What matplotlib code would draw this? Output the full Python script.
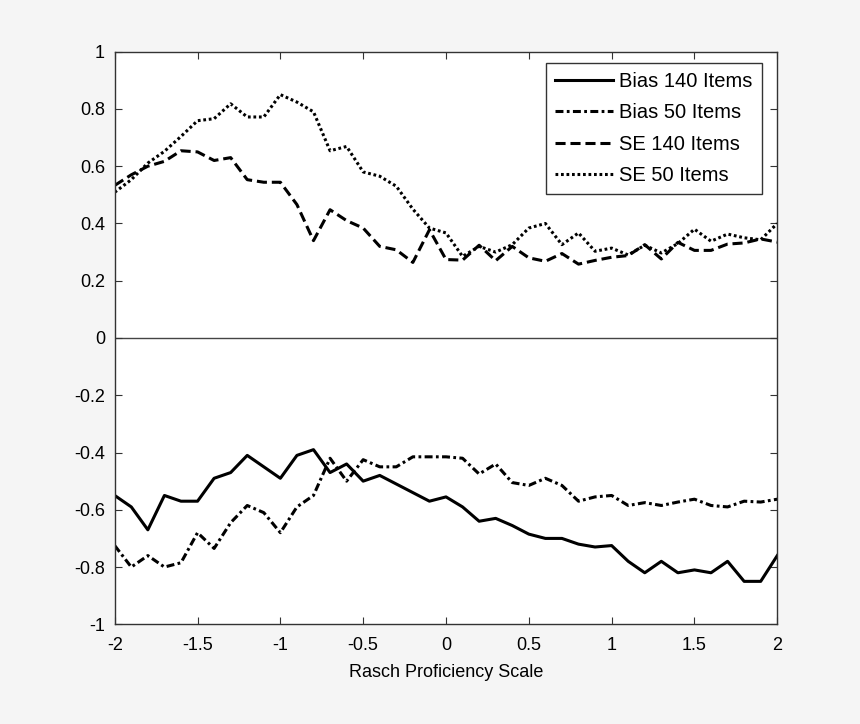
import matplotlib.pyplot as plt
import numpy as np
from matplotlib.ticker import FuncFormatter

plt.rcParams['font.family'] = ['Liberation Sans', 'DejaVu Sans']
plt.rcParams['axes.unicode_minus'] = False

# Rasch proficiency grid, -2 .. 2 in steps of 0.1
theta = np.round(np.arange(-2.0, 2.01, 0.1), 1)

bias_140 = [-0.55, -0.59, -0.67, -0.55, -0.57, -0.57, -0.49, -0.47, -0.41, -0.45,
            -0.49, -0.41, -0.39, -0.47, -0.44, -0.50, -0.48, -0.51, -0.54, -0.57,
            -0.555, -0.59, -0.64, -0.63, -0.655, -0.685, -0.70, -0.70, -0.72, -0.73,
            -0.725, -0.78, -0.82, -0.78, -0.82, -0.81, -0.82, -0.78, -0.85, -0.85,
            -0.76]
bias_50 = [-0.725, -0.80, -0.76, -0.80, -0.785, -0.68, -0.735, -0.645, -0.585, -0.61,
           -0.68, -0.59, -0.55, -0.42, -0.50, -0.425, -0.45, -0.45, -0.415, -0.415,
           -0.415, -0.42, -0.475, -0.44, -0.505, -0.515, -0.49, -0.515, -0.57, -0.555,
           -0.55, -0.585, -0.575, -0.585, -0.573, -0.563, -0.585, -0.59, -0.57, -0.573,
           -0.563]
se_140 = [0.533, 0.57, 0.60, 0.617, 0.654, 0.65, 0.62, 0.63, 0.553, 0.544,
          0.544, 0.466, 0.34, 0.448, 0.41, 0.384, 0.32, 0.308, 0.264, 0.378,
          0.274, 0.272, 0.324, 0.27, 0.32, 0.28, 0.268, 0.295, 0.258, 0.271,
          0.282, 0.288, 0.326, 0.276, 0.334, 0.306, 0.306, 0.328, 0.332, 0.346,
          0.335]
se_50 = [0.509, 0.553, 0.611, 0.652, 0.704, 0.759, 0.766, 0.818, 0.772, 0.772,
         0.85, 0.824, 0.79, 0.654, 0.669, 0.58, 0.565, 0.53, 0.45, 0.384,
         0.367, 0.285, 0.32, 0.30, 0.326, 0.384, 0.40, 0.326, 0.367, 0.303,
         0.314, 0.29, 0.324, 0.297, 0.33, 0.38, 0.338, 0.363, 0.35, 0.343,
         0.40]

fig = plt.figure(figsize=(8.6, 7.24), dpi=100, facecolor='#f5f5f5')
ax = fig.add_axes([0.1334, 0.1377, 0.7704, 0.7909])

lw = 2.2
ax.plot(theta, bias_140, color='black', lw=lw, label='Bias 140 Items')
ax.plot(theta, bias_50, color='black', lw=lw, dashes=(2.6, 1.1, 0.9, 1.1),
        label='Bias 50 Items')
ax.plot(theta, se_140, color='black', lw=lw, dashes=(3.3, 1.6), label='SE 140 Items')
ax.plot(theta, se_50, color='black', lw=lw, dashes=(0.9, 0.9), label='SE 50 Items')

ax.axhline(0, color='#444444', lw=1.0, zorder=1)

# tidy labels: no "-0", hyphen minus like the original
fmt = FuncFormatter(lambda v, pos: f'{round(v, 2) + 0.0:g}')

ax.set_xlim(-2, 2)
ax.set_ylim(-1, 1)
ax.set_xticks(np.arange(-2, 2.01, 0.5))
ax.set_yticks(np.round(np.arange(-1, 1.01, 0.2), 1))
ax.xaxis.set_major_formatter(fmt)
ax.yaxis.set_major_formatter(fmt)
ax.tick_params(direction='in', length=5, width=0.8, color='#333333',
               top=True, right=True, labelsize=13)
ax.tick_params(axis='x', pad=9)
ax.tick_params(axis='y', pad=7)
for s in ax.spines.values():
  s.set_color('#333333')
  s.set_linewidth(1.0)

ax.set_xlabel('Rasch Proficiency Scale', fontsize=13, labelpad=7)

leg = ax.legend(loc='upper right', fontsize=14.5, fancybox=False, framealpha=1,
                edgecolor='#333333', handlelength=2.9, borderpad=0.45,
                labelspacing=0.62, handletextpad=0.3,
                bbox_to_anchor=(0.992, 0.998))
leg.get_frame().set_linewidth(1.0)

plt.savefig('out.png', dpi=100, facecolor=fig.get_facecolor())
